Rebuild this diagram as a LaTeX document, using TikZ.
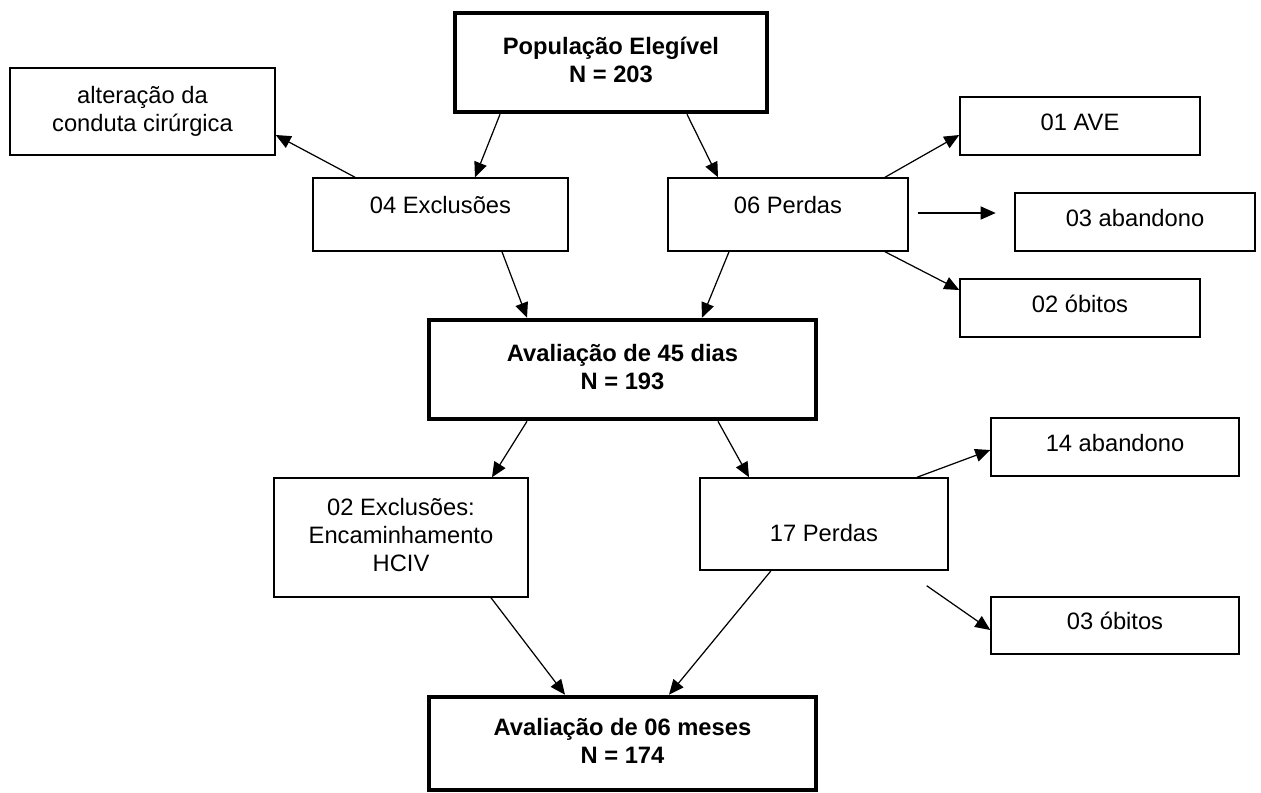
\documentclass[tikz,border=0pt]{standalone}
\usepackage{fontspec}
\setmainfont{Liberation Sans}
\usepackage{tikz}
\usetikzlibrary{arrows.meta,calc}
\newcommand{\stacked}[1]{\begin{tabular}{@{}c@{}}#1\end{tabular}}

\begin{document}
\begin{tikzpicture}[
    x=0.02cm,
    y=-0.02cm,
    font=\fontsize{13.5}{16}\selectfont,
    box/.style={rectangle, draw=black, line width=0.85pt, fill=white, align=center, inner sep=2pt},
    sidebox/.style={box, text height=0.34cm, text depth=0.17cm},
    mainbox/.style={box, line width=2.6pt, font=\fontsize{13.5}{16}\selectfont\bfseries},
    arr/.style={-{Triangle[length=0.3cm,width=0.26cm]}, line width=0.7pt}
  ]
    \useasboundingbox (0,0) rectangle (1261,792);

    \node[mainbox, minimum width=6.24cm, minimum height=1.98cm] (pop) at (611,62.5) {\raisebox{0.15cm}{\stacked{População Elegível\\N = 203}}};
    \node[box, minimum width=5.3cm, minimum height=1.74cm] (alt) at (142.5,111.5) {\stacked{alteração da\\conduta cirúrgica}};
    \node[box, text height=0.34cm, text depth=0.39cm, minimum width=5.1cm, minimum height=1.46cm] (excl1) at (440.5,214.5) {04 Exclusões};
    \node[box, text height=0.34cm, text depth=0.39cm, minimum width=4.8cm, minimum height=1.46cm] (perd1) at (788,214.5) {06 Perdas};
    \node[sidebox, minimum width=4.8cm, minimum height=1.16cm] (ave) at (1080,126) {01 AVE};
    \node[sidebox, minimum width=4.8cm, minimum height=1.16cm] (aband1) at (1135,222) {03 abandono};
    \node[sidebox, minimum width=4.8cm, minimum height=1.16cm] (obit1) at (1080,308) {02 óbitos};

    \node[mainbox, minimum width=7.74cm, minimum height=1.98cm] (av45) at (622.5,369.5) {\raisebox{0.17cm}{\stacked{Avaliação de 45 dias\\N = 193}}};
    \node[box, minimum width=5.08cm, minimum height=2.38cm] (excl2) at (401,537.5) {\raisebox{0.1cm}{\stacked{02 Exclusões:\\Encaminhamento\\HCIV}}};
    \node[box, text height=0.7cm, text depth=0pt, minimum width=4.96cm, minimum height=1.84cm] (perd2) at (824,524) {17 Perdas};
    \node[sidebox, minimum width=4.96cm, minimum height=1.16cm] (aband2) at (1115,447) {14 abandono};
    \node[sidebox, minimum width=4.96cm, minimum height=1.14cm] (obit2) at (1115,625.5) {03 óbitos};
    \node[mainbox, minimum width=7.74cm, minimum height=1.86cm] (av06) at (622.5,743.5) {\raisebox{0.13cm}{\stacked{Avaliação de 06 meses\\N = 174}}};

    \draw[arr] ([xshift=-2.22cm]pop.south) -- ([xshift=0.69cm]excl1.north);
    \draw[arr] ([xshift=1.52cm]pop.south) -- ([xshift=-1.4cm]perd1.north);
    \draw[arr] ([xshift=-1.71cm]excl1.north) -- ([yshift=-0.47cm]alt.east);
    \draw[arr] ([xshift=1.94cm]perd1.north) -- ([yshift=-0.18cm]ave.west);
    \draw[arr] ([xshift=0.18cm,yshift=0.03cm]perd1.east) -- ++(1.56cm,0);
    \draw[arr] ([xshift=1.94cm]perd1.south) -- ([yshift=0.36cm]obit1.west);
    \draw[arr] ([xshift=1.23cm]excl1.south) -- ([xshift=-1.91cm]av45.north);
    \draw[arr] ([xshift=-1.18cm]perd1.south) -- ([xshift=1.59cm]av45.north);

    \draw[arr] ([xshift=-1.91cm]av45.south) -- ([xshift=1.82cm]excl2.north);
    \draw[arr] ([xshift=1.91cm]av45.south) -- ([xshift=-1.5cm]perd2.north);
    \draw[arr] ([xshift=1.86cm]perd2.north) -- ([yshift=-0.06cm]aband2.west);
    \draw[arr] ([xshift=-0.44cm,yshift=-0.3cm]perd2.south east) -- ([yshift=-0.09cm]obit2.west);
    \draw[arr] ([xshift=1.8cm]excl2.south) -- ([xshift=-1.15cm]av06.north);
    \draw[arr] ([xshift=-1.06cm]perd2.south) -- ([xshift=0.93cm]av06.north);
  \end{tikzpicture}
\end{document}
